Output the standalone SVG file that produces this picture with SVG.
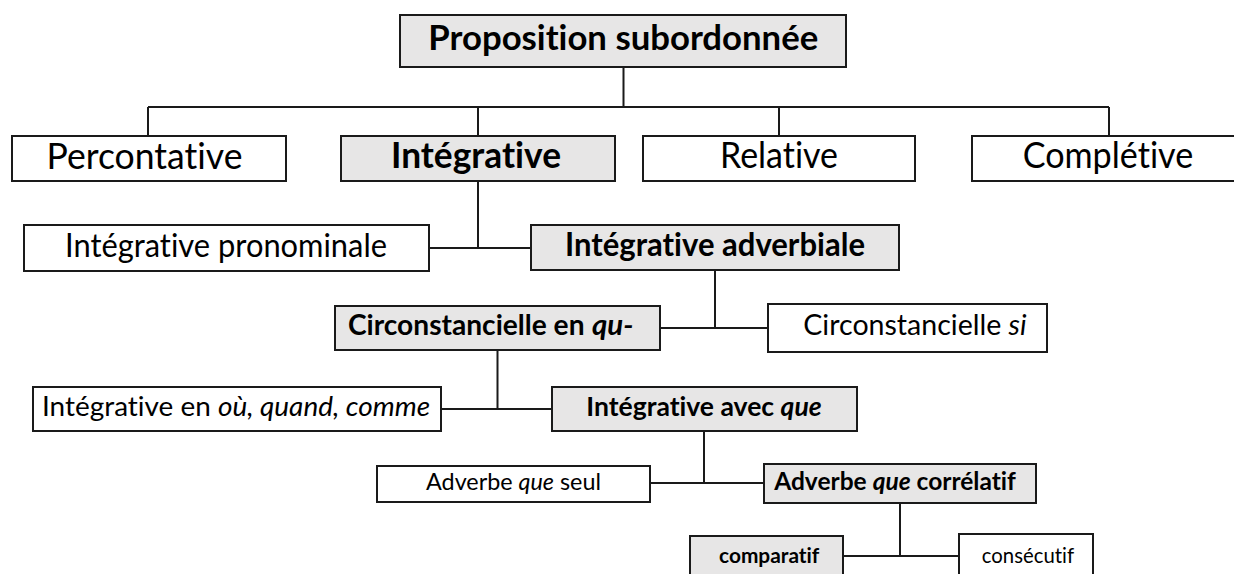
<svg xmlns="http://www.w3.org/2000/svg" width="1234" height="574" viewBox="0 0 1234 574">
<style>
.box{stroke:#1a1a1a;stroke-width:2;fill:#ffffff}
.gray{fill:#e7e6e6}
.t{font-family:Lato,"Open Sans","Liberation Sans",sans-serif;fill:#000;text-anchor:middle;font-variant-ligatures:none}
.s{text-anchor:start}
.b{font-weight:bold}
.i{font-style:italic}
.conn{stroke:#1a1a1a;stroke-width:2;fill:none}
</style>
<rect width="1234" height="574" fill="#ffffff"/>
<g id="connectors" class="conn">
<path d="M623.5 67 V107 M148 107 H1109 M148 107 V136 M478 107 V136 M779 107 V136 M1109 107 V136"/>
<path d="M478 181 V248 M429 248 H531"/>
<path d="M715 270 V328 M660 328 H768"/>
<path d="M497.5 350 V409 M441 409 H552"/>
<path d="M704 431 V483 M650 483 H764"/>
<path d="M900 503 V556 M843 556 H959"/>
</g>
<g id="n-proposition">
<rect class="box gray" x="400" y="15" width="446" height="52"/>
<text class="t b" x="623.3" y="50" font-size="34" textLength="390" lengthAdjust="spacingAndGlyphs">Proposition subordonnée</text>
</g>
<g id="n-percontative">
<rect class="box" x="12" y="136" width="274" height="45"/>
<text class="t" x="144.5" y="169" font-size="36.5" textLength="196" lengthAdjust="spacingAndGlyphs">Percontative</text>
</g>
<g id="n-integrative">
<rect class="box gray" x="341" y="136" width="274" height="45"/>
<text class="t b" x="476" y="168" font-size="36.5" textLength="170" lengthAdjust="spacingAndGlyphs">Intégrative</text>
</g>
<g id="n-relative">
<rect class="box" x="643" y="136" width="272" height="45"/>
<text class="t" x="779" y="168.3" font-size="36.5" textLength="118" lengthAdjust="spacingAndGlyphs">Relative</text>
</g>
<g id="n-completive">
<rect class="box" x="972" y="136" width="272" height="45"/>
<text class="t" x="1108" y="168.3" font-size="36.5" textLength="170.6" lengthAdjust="spacingAndGlyphs">Complétive</text>
</g>
<g id="n-int-pronominale">
<rect class="box" x="24" y="225" width="405" height="46"/>
<text class="t" x="226" y="256.7" font-size="32" textLength="322" lengthAdjust="spacingAndGlyphs">Intégrative pronominale</text>
</g>
<g id="n-int-adverbiale">
<rect class="box gray" x="531" y="225" width="368" height="45"/>
<text class="t b" x="715" y="256" font-size="32" textLength="300" lengthAdjust="spacingAndGlyphs">Intégrative adverbiale</text>
</g>
<g id="n-circ-qu">
<rect class="box gray" x="335" y="306" width="325" height="44"/>
<text class="t s b" x="348" y="335" font-size="29" textLength="236.5" lengthAdjust="spacingAndGlyphs">Circonstancielle en</text>
<text class="t s b i" x="592" y="335" font-size="29" textLength="41.5" lengthAdjust="spacingAndGlyphs">qu-</text>
</g>
<g id="n-circ-si">
<rect class="box" x="768" y="304" width="279" height="48"/>
<text class="t s" x="803.3" y="335" font-size="29" textLength="198" lengthAdjust="spacingAndGlyphs">Circonstancielle</text>
<text class="t s i" x="1008.5" y="335" font-size="29" textLength="18" lengthAdjust="spacingAndGlyphs">si</text>
</g>
<g id="n-int-ou">
<rect class="box" x="33" y="387" width="408" height="44"/>
<text class="t" x="236" y="415.7" font-size="27" textLength="388" lengthAdjust="spacingAndGlyphs">Intégrative en <tspan class="i">où, quand, comme</tspan></text>
</g>
<g id="n-int-que">
<rect class="box gray" x="552" y="387" width="305" height="44"/>
<text class="t b" x="704" y="415.7" font-size="27" textLength="235.4" lengthAdjust="spacingAndGlyphs">Intégrative avec <tspan class="i">que</tspan></text>
</g>
<g id="n-adv-seul">
<rect class="box" x="377" y="466" width="273" height="36"/>
<text class="t" x="513.5" y="490" font-size="24" textLength="175" lengthAdjust="spacingAndGlyphs">Adverbe <tspan class="i">que</tspan> seul</text>
</g>
<g id="n-adv-correlatif">
<rect class="box gray" x="764" y="464" width="272" height="39"/>
<text class="t b" x="895" y="490" font-size="25" textLength="241.7" lengthAdjust="spacingAndGlyphs">Adverbe <tspan class="i">que</tspan> corrélatif</text>
</g>
<g id="n-comparatif">
<rect class="box gray" x="690" y="536" width="153" height="50"/>
<text class="t b" x="769.2" y="562.7" font-size="21.5" textLength="100.3" lengthAdjust="spacingAndGlyphs">comparatif</text>
</g>
<g id="n-consecutif">
<rect class="box" x="959" y="534" width="134" height="52"/>
<text class="t" x="1027.9" y="562.7" font-size="21.5" textLength="92.3" lengthAdjust="spacingAndGlyphs">consécutif</text>
</g>
</svg>
